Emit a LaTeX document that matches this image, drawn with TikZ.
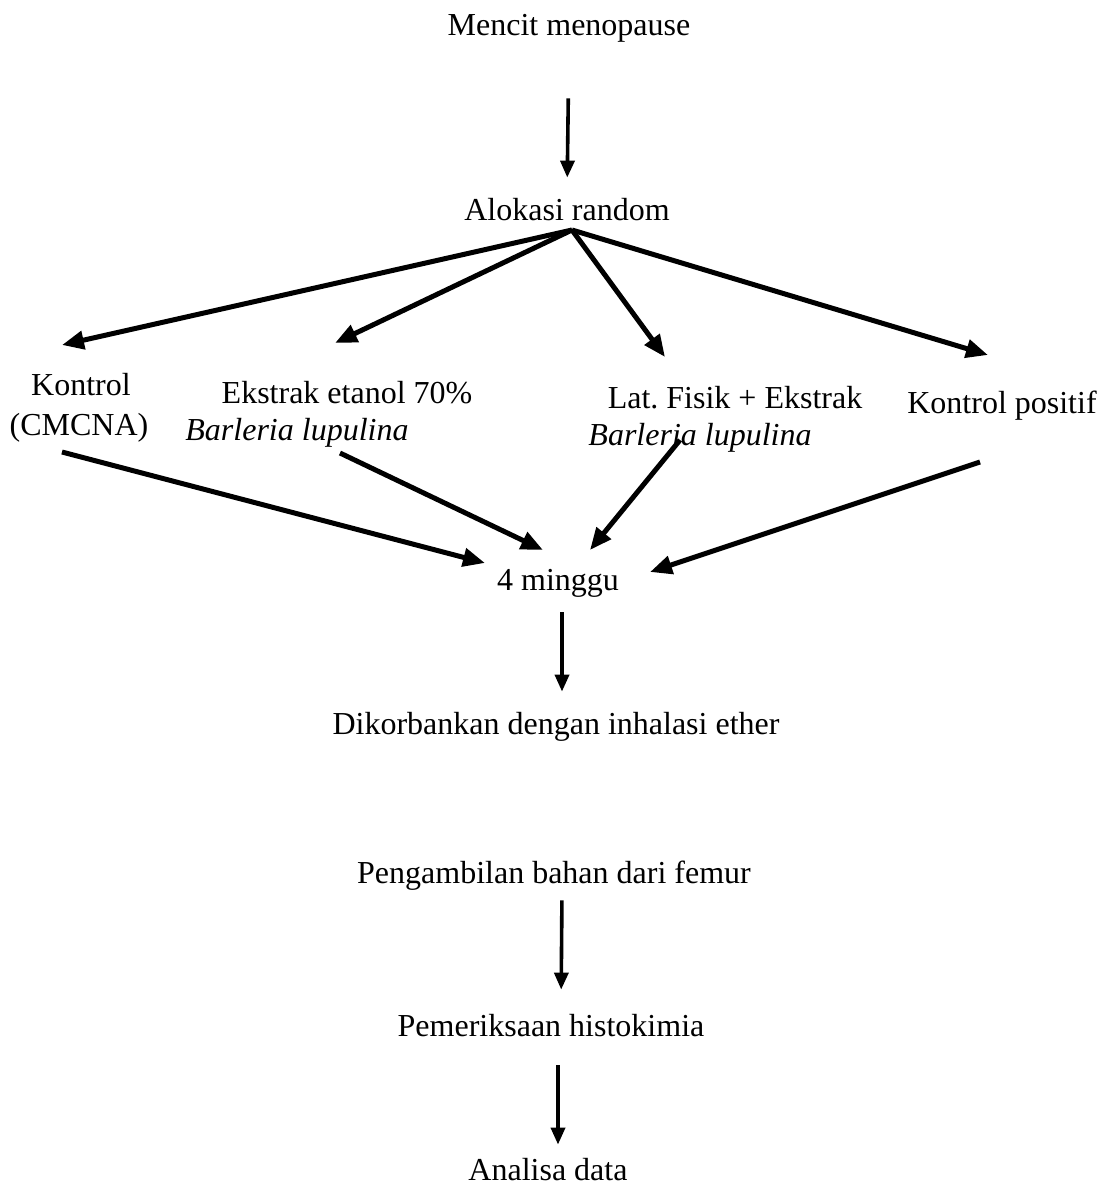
\documentclass[tikz,border=0pt]{standalone}
\usepackage{fontspec}
\setmainfont{Liberation Serif}
\frenchspacing
\usetikzlibrary{arrows.meta}
\tikzset{
  lbl/.style={anchor=base,inner sep=0pt,text height=11pt,text depth=3.5pt,
    font=\fontsize{16}{19}\selectfont},
  fanarr/.style={line width=2.5pt,-{Triangle[length=11pt,width=9pt]}},
  downarr/.style={line width=1.8pt,-{Triangle[length=8.5pt,width=7pt]}}
}
\begin{document}
\begin{tikzpicture}[x=0.5pt,y=-0.5pt]
\useasboundingbox (0,0) rectangle (1107,1189);
% text
\node[lbl] (mencit) at (569,35) {Mencit menopause};
\node[lbl] (alokasi) at (567,220) {Alokasi random};
\node[lbl] (kon1) at (81,395) {Kontrol};
\node[lbl] (kon2) at (79,435) {(CMCNA)};
\node[lbl] (eks1) at (347,403) {Ekstrak etanol 70\%};
\node[lbl] (eks2) at (297,440) {\itshape Barleria lupulina};
\node[lbl] (lat1) at (735,408) {Lat. Fisik + Ekstrak};
\node[lbl] (lat2) at (700,445) {\itshape Barleria lupulina};
\node[lbl] (pos) at (1002,413) {Kontrol positif};
\node[lbl] (minggu) at (558,590) {4 minggu};
\node[lbl] (korban) at (556,734) {Dikorbankan dengan inhalasi ether};
\node[lbl] (femur) at (554,883) {Pengambilan bahan dari femur};
\node[lbl] (histo) at (551,1036) {Pemeriksaan histokimia};
\node[lbl] (analisa) at (548,1180) {Analisa data};
% arrow ends
\coordinate (fan) at (572,230);
\coordinate (konin) at (62,345);
\coordinate (eksin) at (335,343);
\coordinate (latin) at (665,357);
\coordinate (posin) at (988,355);
\coordinate (konout) at (62,452);
\coordinate (eksout) at (340,453);
\coordinate (latout) at (680,440);
\coordinate (posout) at (980,462);
\coordinate (m1) at (485,563);
\coordinate (m2) at (543,550);
\coordinate (m3) at (590,550);
\coordinate (m4) at (650,572);
% arrows
\draw[downarr,shorten <=28pt,shorten >=10pt] (mencit.south) -- (alokasi.north);
\draw[fanarr] (fan) -- (konin);
\draw[fanarr] (fan) -- (eksin);
\draw[fanarr] (fan) -- (latin);
\draw[fanarr] (fan) -- (posin);
\draw[fanarr] (konout) -- (m1);
\draw[fanarr] (eksout) -- (m2);
\draw[fanarr] (latout) -- (m3);
\draw[fanarr] (posout) -- (m4);
\draw[downarr,shorten <=7.5pt,shorten >=10pt] ([xshift=2pt]minggu.south) -- ([xshift=3pt]korban.north);
\draw[downarr,shorten <=5pt,shorten >=12pt] ([xshift=4pt]femur.south) -- ([xshift=5pt]histo.north);
\draw[downarr,shorten <=11pt,shorten >=6.5pt] ([xshift=3.5pt]histo.south) -- ([xshift=5pt]analisa.north);
\end{tikzpicture}
\end{document}
